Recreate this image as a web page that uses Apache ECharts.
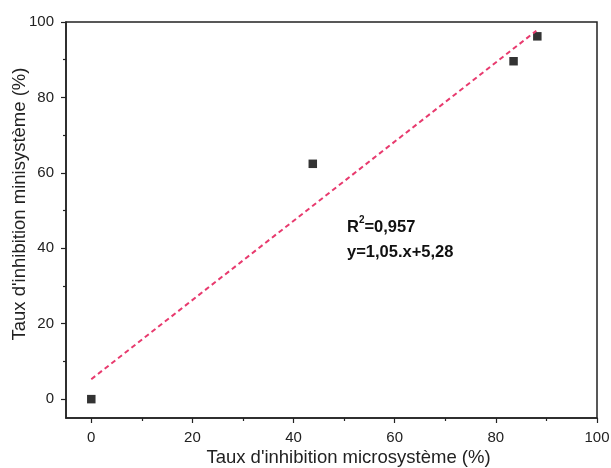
<!DOCTYPE html>
<html>
<head>
<meta charset="utf-8">
<script src="https://cdn.jsdelivr.net/npm/echarts@6/dist/echarts.min.js"></script>
<style>html,body{margin:0;padding:0;background:#fff}#c{width:611px;height:468px}</style>
</head>
<body>
<div id="c"></div>
<script>
// data
const pointsX = [0, 43.8, 83.5, 88.2];
const pointsY = [0, 62.4, 89.6, 96.2];
const fitX = [0, 88];
const fitY = [5.28, 97.68];
const majorTicks = [0, 20, 40, 60, 80, 100];
const minorTicks = [10, 30, 50, 70, 90];
const annotation = ['R{sup|2}=0,957', 'y=1,05.x+5,28'];

const font = 'Liberation Sans, Arial, sans-serif';
const chart = echarts.init(document.getElementById('c'));
const axisLineStyle = { color: '#222', width: 1.5 };

function mkAxis(isX, primary) {
  const ax = {
    type: 'value', min: -5, max: 100,
    position: isX ? 'bottom' : 'left',
    splitLine: { show: false },
    axisLine: { show: primary, onZero: false, lineStyle: axisLineStyle },
    axisTick: {
      show: true, inside: false, length: primary ? 5 : 3,
      customValues: primary ? majorTicks : minorTicks,
      lineStyle: { color: '#222', width: 1.2 }
    },
    axisLabel: primary ? {
      show: true, customValues: majorTicks, color: '#222',
      fontFamily: font, fontSize: 15, margin: 12
    } : { show: false }
  };
  if (primary) {
    ax.name = isX ? "Taux d'inhibition microsystème (%)" : "Taux d'inhibition minisystème (%)";
    ax.nameLocation = 'middle';
    ax.nameMoveOverlap = false;
    ax.nameGap = isX ? 30 : 37;
    ax.nameTextStyle = { fontFamily: font, fontSize: 18.5, color: '#222', padding: [0, 0, 0, isX ? 34 : 32] };
  }
  return ax;
}

chart.setOption({
  backgroundColor: '#fff',
  animation: false,
  grid: { left: 66, right: 14, top: 22, bottom: 50, show: true, borderColor: '#222', borderWidth: 1.5,
          containLabel: false, outerBoundsMode: 'none' },
  xAxis: [mkAxis(true, true), mkAxis(true, false)],
  yAxis: [mkAxis(false, true), mkAxis(false, false)],
  graphic: [{
    type: 'text', left: 347, top: 215,
    style: {
      text: annotation.join('\n'),
      fontFamily: font, fontSize: 16.5, fontWeight: 'bold', fill: '#111', lineHeight: 25,
      rich: { sup: { fontSize: 10, fontWeight: 'bold', verticalAlign: 'top', padding: [0, 0, 9, 0], fill: '#111' } }
    }
  }],
  series: [
    {
      type: 'line', xAxisIndex: 0, yAxisIndex: 0,
      data: fitX.map((x, i) => [x, fitY[i]]),
      symbol: 'none',
      lineStyle: { color: '#e83a6e', width: 2, type: [5, 3.5] }
    },
    {
      type: 'scatter', xAxisIndex: 0, yAxisIndex: 0,
      data: pointsX.map((x, i) => [x, pointsY[i]]),
      symbol: 'rect', symbolSize: 8.5,
      itemStyle: { color: '#000' }
    }
  ]
});
</script>
</body>
</html>
